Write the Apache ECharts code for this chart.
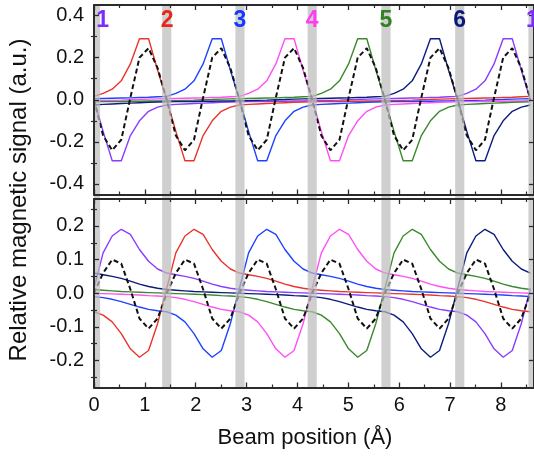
<!DOCTYPE html>
<html><head><meta charset="utf-8">
<script src="https://cdn.jsdelivr.net/npm/echarts@6/dist/echarts.min.js"></script>
<style>html,body{margin:0;padding:0;background:#fff}#c{width:534px;height:456px}</style>
</head><body><div id="c"></div>
<script>
// ---------- data ----------
const beamPos = [0, 0.179, 0.358, 0.536, 0.715, 0.894, 1.073, 1.251, 1.430, 1.609, 1.788, 1.966, 2.145, 2.324, 2.503, 2.681, 2.860, 3.039, 3.218, 3.396, 3.575, 3.754, 3.933, 4.111, 4.290, 4.469, 4.648, 4.826, 5.005, 5.184, 5.363, 5.541, 5.720, 5.899, 6.078, 6.256, 6.435, 6.614, 6.793, 6.971, 7.150, 7.329, 7.508, 7.686, 7.865, 8.044, 8.223, 8.401, 8.580];

const seriesNames = ['1', '2', '3', '4', '5', '6'];
const seriesColors = ['#8a3cff', '#e8352b', '#1e43ff', '#ff4ff5', '#3a8a2c', '#0d1c7e'];

// upper panel
const topPurple = [0, -0.15, -0.29, -0.29, -0.17, -0.1, -0.055, -0.035, -0.025, -0.022, -0.02, -0.018, -0.016, -0.014, -0.012, -0.011, -0.01, -0.009, -0.009, -0.008, -0.007, -0.007, -0.006, -0.006, -0.005, -0.004, -0.003, -0.002, 0, 0.001, 0.003, 0.004, 0.005, 0.006, 0.007, 0.008, 0.009, 0.011, 0.012, 0.014, 0.016, 0.03, 0.05, 0.09, 0.17, 0.29, 0.29, 0.14, 0];
const topRed = [0.016, 0.03, 0.05, 0.09, 0.17, 0.29, 0.29, 0.14, 0, -0.15, -0.29, -0.29, -0.17, -0.1, -0.055, -0.035, -0.025, -0.022, -0.02, -0.018, -0.016, -0.014, -0.012, -0.011, -0.01, -0.009, -0.009, -0.008, -0.007, -0.007, -0.006, -0.006, -0.005, -0.004, -0.003, -0.002, 0, 0.001, 0.003, 0.004, 0.005, 0.006, 0.007, 0.008, 0.009, 0.011, 0.012, 0.014, 0.016];
const topBlue = [0.005, 0.006, 0.007, 0.008, 0.009, 0.011, 0.012, 0.014, 0.016, 0.03, 0.05, 0.09, 0.17, 0.29, 0.29, 0.14, 0, -0.15, -0.29, -0.29, -0.17, -0.1, -0.055, -0.035, -0.025, -0.022, -0.02, -0.018, -0.016, -0.014, -0.012, -0.011, -0.01, -0.009, -0.009, -0.008, -0.007, -0.007, -0.006, -0.006, -0.005, -0.004, -0.003, -0.002, 0, 0.001, 0.003, 0.004, 0.005];
const topMagenta = [-0.005, -0.004, -0.003, -0.002, 0, 0.001, 0.003, 0.004, 0.005, 0.006, 0.007, 0.008, 0.009, 0.011, 0.012, 0.014, 0.016, 0.03, 0.05, 0.09, 0.17, 0.29, 0.29, 0.14, 0, -0.15, -0.29, -0.29, -0.17, -0.1, -0.055, -0.035, -0.025, -0.022, -0.02, -0.018, -0.016, -0.014, -0.012, -0.011, -0.01, -0.009, -0.009, -0.008, -0.007, -0.007, -0.006, -0.006, -0.005];
const topGreen = [-0.01, -0.009, -0.009, -0.008, -0.007, -0.007, -0.006, -0.006, -0.005, -0.004, -0.003, -0.002, 0, 0.001, 0.003, 0.004, 0.005, 0.006, 0.007, 0.008, 0.009, 0.011, 0.012, 0.014, 0.016, 0.03, 0.05, 0.09, 0.17, 0.29, 0.29, 0.14, 0, -0.15, -0.29, -0.29, -0.17, -0.1, -0.055, -0.035, -0.025, -0.022, -0.02, -0.018, -0.016, -0.014, -0.012, -0.011, -0.01];
const topNavy = [-0.025, -0.022, -0.02, -0.018, -0.016, -0.014, -0.012, -0.011, -0.01, -0.009, -0.009, -0.008, -0.007, -0.007, -0.006, -0.006, -0.005, -0.004, -0.003, -0.002, 0, 0.001, 0.003, 0.004, 0.005, 0.006, 0.007, 0.008, 0.009, 0.011, 0.012, 0.014, 0.016, 0.03, 0.05, 0.09, 0.17, 0.29, 0.29, 0.14, 0, -0.15, -0.29, -0.29, -0.17, -0.1, -0.055, -0.035, -0.025];
const topDashed = [0, -0.17, -0.24, -0.19, 0.01, 0.2, 0.245, 0.15, 0, -0.17, -0.24, -0.19, 0.01, 0.2, 0.245, 0.15, 0, -0.17, -0.24, -0.19, 0.01, 0.2, 0.245, 0.15, 0, -0.17, -0.24, -0.19, 0.01, 0.2, 0.245, 0.15, 0, -0.17, -0.24, -0.19, 0.01, 0.2, 0.245, 0.15, 0, -0.17, -0.24, -0.19, 0.01, 0.2, 0.245, 0.15, 0];

// lower panel
const botPurple = [0.015, 0.12, 0.17, 0.19, 0.175, 0.13, 0.095, 0.072, 0.06, 0.055, 0.05, 0.044, 0.036, 0.027, 0.02, 0.015, 0.011, 0.009, 0.007, 0.005, 0.004, 0.003, 0.002, 0.001, 0, -0.001, -0.002, -0.003, -0.004, -0.005, -0.007, -0.008, -0.01, -0.013, -0.018, -0.025, -0.033, -0.041, -0.048, -0.052, -0.055, -0.065, -0.085, -0.12, -0.165, -0.19, -0.17, -0.09, 0.015];
const botRed = [-0.055, -0.065, -0.085, -0.12, -0.165, -0.19, -0.17, -0.09, 0.015, 0.12, 0.17, 0.19, 0.175, 0.13, 0.095, 0.072, 0.06, 0.055, 0.05, 0.044, 0.036, 0.027, 0.02, 0.015, 0.011, 0.009, 0.007, 0.005, 0.004, 0.003, 0.002, 0.001, 0, -0.001, -0.002, -0.003, -0.004, -0.005, -0.007, -0.008, -0.01, -0.013, -0.018, -0.025, -0.033, -0.041, -0.048, -0.052, -0.055];
const botBlue = [-0.01, -0.013, -0.018, -0.025, -0.033, -0.041, -0.048, -0.052, -0.055, -0.065, -0.085, -0.12, -0.165, -0.19, -0.17, -0.09, 0.015, 0.12, 0.17, 0.19, 0.175, 0.13, 0.095, 0.072, 0.06, 0.055, 0.05, 0.044, 0.036, 0.027, 0.02, 0.015, 0.011, 0.009, 0.007, 0.005, 0.004, 0.003, 0.002, 0.001, 0, -0.001, -0.002, -0.003, -0.004, -0.005, -0.007, -0.008, -0.01];
const botMagenta = [0, -0.001, -0.002, -0.003, -0.004, -0.005, -0.007, -0.008, -0.01, -0.013, -0.018, -0.025, -0.033, -0.041, -0.048, -0.052, -0.055, -0.065, -0.085, -0.12, -0.165, -0.19, -0.17, -0.09, 0.015, 0.12, 0.17, 0.19, 0.175, 0.13, 0.095, 0.072, 0.06, 0.055, 0.05, 0.044, 0.036, 0.027, 0.02, 0.015, 0.011, 0.009, 0.007, 0.005, 0.004, 0.003, 0.002, 0.001, 0];
const botGreen = [0.011, 0.009, 0.007, 0.005, 0.004, 0.003, 0.002, 0.001, 0, -0.001, -0.002, -0.003, -0.004, -0.005, -0.007, -0.008, -0.01, -0.013, -0.018, -0.025, -0.033, -0.041, -0.048, -0.052, -0.055, -0.065, -0.085, -0.12, -0.165, -0.19, -0.17, -0.09, 0.015, 0.12, 0.17, 0.19, 0.175, 0.13, 0.095, 0.072, 0.06, 0.055, 0.05, 0.044, 0.036, 0.027, 0.02, 0.015, 0.011];
const botNavy = [0.06, 0.055, 0.05, 0.044, 0.036, 0.027, 0.02, 0.015, 0.011, 0.009, 0.007, 0.005, 0.004, 0.003, 0.002, 0.001, 0, -0.001, -0.002, -0.003, -0.004, -0.005, -0.007, -0.008, -0.01, -0.013, -0.018, -0.025, -0.033, -0.041, -0.048, -0.052, -0.055, -0.065, -0.085, -0.12, -0.165, -0.19, -0.17, -0.09, 0.015, 0.12, 0.17, 0.19, 0.175, 0.13, 0.095, 0.072, 0.06];
const botDashed = [0, 0.06, 0.1, 0.088, 0.012, -0.075, -0.105, -0.075, 0, 0.06, 0.1, 0.088, 0.012, -0.075, -0.105, -0.075, 0, 0.06, 0.1, 0.088, 0.012, -0.075, -0.105, -0.075, 0, 0.06, 0.1, 0.088, 0.012, -0.075, -0.105, -0.075, 0, 0.06, 0.1, 0.088, 0.012, -0.075, -0.105, -0.075, 0, 0.06, 0.1, 0.088, 0.012, -0.075, -0.105, -0.075, 0];

// shaded columns and their labels
const bandStart = [-0.06, 1.34, 2.78, 4.20, 5.65, 7.10, 8.54];
const bandEnd   = [0.12, 1.52, 2.96, 4.38, 5.83, 7.28, 8.72];
const bandLabels = ['1', '2', '3', '4', '5', '6', '1'];
const bandLabelX = [0.17, 1.44, 2.87, 4.29, 5.74, 7.19, 8.62];
const bandLabelColors = ['#7d2cff', '#e8271c', '#1438ff', '#ff3cf2', '#2f8122', '#0a1878', '#7d2cff'];

// tick values
const xTicks = [0, 1, 2, 3, 4, 5, 6, 7, 8];
const topYTicks = [-0.4, -0.2, 0, 0.2, 0.4];
const topYMinor = [-0.3, -0.1, 0.1, 0.3];
const botYTicks = [-0.2, -0.1, 0, 0.1, 0.2];
const botYMinor = [-0.25, -0.15, -0.05, 0.05, 0.15, 0.25];

const topSets = [topPurple, topRed, topBlue, topMagenta, topGreen, topNavy];
const botSets = [botPurple, botRed, botBlue, botMagenta, botGreen, botNavy];

// ---------- chart ----------
const FONT = '"Liberation Sans", Arial, Helvetica, sans-serif';
const AX = '#2b2b2b';
const TOP_RANGE = [-0.45, 0.45];
const BOT_RANGE = [-0.28, 0.28];

function xAxisDef(gridIndex, position, showLabel) {
  return {
    type: 'value', gridIndex, position, min: 0, max: 8.65, interval: 1, z: 20,
    axisLine: { show: true, onZero: false, lineStyle: { color: AX, width: 2 } },
    axisTick: { show: true, inside: true, length: 5, lineStyle: { color: AX, width: 1.3 } },
    minorTick: { show: true, splitNumber: 2, length: 3, lineStyle: { color: AX, width: 1.2 } },
    axisLabel: { show: showLabel, color: '#111', fontSize: 20, fontFamily: FONT, margin: 8,
      customValues: xTicks },
    splitLine: { show: false }, minorSplitLine: { show: false }
  };
}
function yAxisDefs(gridIndex, position, range, major, minor, showLabel) {
  return [{
    type: 'value', gridIndex, position, min: range[0], max: range[1], z: 20,
    axisLine: { show: true, onZero: false, lineStyle: { color: AX, width: 2 } },
    axisTick: { show: true, inside: true, length: 5, customValues: major, lineStyle: { color: AX, width: 1.3 } },
    axisLabel: { show: showLabel, customValues: major, color: '#111', fontSize: 20, fontFamily: FONT, margin: 10,
      formatter: v => Number(v).toFixed(1) },
    splitLine: { show: false }
  }, {
    type: 'value', gridIndex, position, min: range[0], max: range[1], z: 20,
    axisLine: { show: false },
    axisTick: { show: true, inside: true, length: 3, customValues: minor, lineStyle: { color: AX, width: 1.2 } },
    axisLabel: { show: false },
    splitLine: { show: false }
  }];
}

const xAxes = [
  xAxisDef(0, 'bottom', false), xAxisDef(0, 'top', false),
  xAxisDef(1, 'bottom', true), xAxisDef(1, 'top', false)
];
const yAxes = [].concat(
  yAxisDefs(0, 'left', TOP_RANGE, topYTicks, topYMinor, true),   // 0,1
  yAxisDefs(0, 'right', TOP_RANGE, topYTicks, topYMinor, false), // 2,3
  yAxisDefs(1, 'left', BOT_RANGE, botYTicks, botYMinor, true),   // 4,5
  yAxisDefs(1, 'right', BOT_RANGE, botYTicks, botYMinor, false)  // 6,7
);

const series = [];
function lineSeries(vals, xi, yi, color, dashed) {
  return {
    type: 'line', xAxisIndex: xi, yAxisIndex: yi, showSymbol: false, symbol: 'none',
    silent: true, animation: false, z: dashed ? 4 : 3,
    data: beamPos.map((x, i) => [x, vals[i]]),
    lineStyle: dashed ? { color: '#111', width: 2, type: [5, 3] } : { color, width: 1.4 }
  };
}
topSets.forEach((vals, k) => series.push(lineSeries(vals, 0, 0, seriesColors[k], false)));
series.push(lineSeries(topDashed, 0, 0, '#111', true));
botSets.forEach((vals, k) => series.push(lineSeries(vals, 2, 4, seriesColors[k], false)));
series.push(lineSeries(botDashed, 2, 4, '#111', true));

function bandSeries(xi, yi, range, extendDown) {
  return {
    type: 'custom', xAxisIndex: xi, yAxisIndex: yi, z: 10, silent: true, animation: false,
    data: bandStart.map((s, i) => [s, bandEnd[i]]),
    encode: { x: [0, 1] },
    renderItem: (params, api) => {
      const p0 = api.coord([api.value(0), range[1]]);
      const p1 = api.coord([api.value(1), range[0]]);
      const cs = params.coordSys;
      const shape = echarts.graphic.clipRectByRect(
        { x: p0[0], y: p0[1], width: p1[0] - p0[0], height: p1[1] - p0[1] + extendDown },
        { x: cs.x, y: cs.y, width: cs.width, height: cs.height + extendDown });
      if (!shape) return null;
      return { type: 'rect', shape, style: { fill: 'rgba(188,188,188,0.72)' } };
    }
  };
}
series.push(bandSeries(0, 0, TOP_RANGE, 5));
series.push(bandSeries(2, 4, BOT_RANGE, 0));

series.push({
  type: 'scatter', xAxisIndex: 0, yAxisIndex: 0, symbolSize: 0, z: 30, zlevel: 0, silent: true,
  animation: false, clip: false,
  data: bandLabelX.map((x, i) => ({ value: [x, 0.375],
    label: { color: bandLabelColors[i] } })),
  label: { show: true, position: 'inside', formatter: p => bandLabels[p.dataIndex],
    fontSize: 23, fontWeight: 'bold', fontFamily: FONT, textBorderWidth: 0, textShadowBlur: 0,
    opacity: 1 }
});

const chart = echarts.init(document.getElementById('c'), null, { renderer: 'canvas' });
chart.setOption({
  animation: false,
  backgroundColor: '#fff',
  grid: [
    { left: 94, top: 5, width: 443, height: 189.5 },
    { left: 94, top: 199, width: 443, height: 188.5 }
  ],
  xAxis: xAxes,
  yAxis: yAxes,
  series,
  graphic: [
    { type: 'text', x: 305, y: 438, z: 30, silent: true,
      style: { text: 'Beam position (Å)', fill: '#111', font: '22px ' + FONT, align: 'center', verticalAlign: 'middle' } },
    { type: 'text', x: 19, y: 200, rotation: Math.PI / 2, z: 30, silent: true,
      style: { text: 'Relative magnetic signal (a.u.)', fill: '#111', font: '24px ' + FONT, align: 'center', verticalAlign: 'middle' } }
  ]
});
</script>
</body></html>
